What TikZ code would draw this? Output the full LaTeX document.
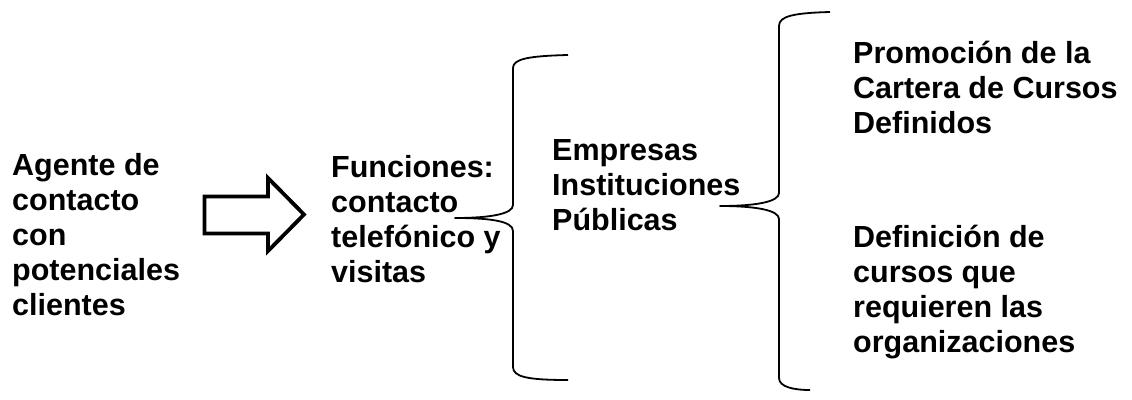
\documentclass[tikz,border=0pt]{standalone}
\usepackage{fontspec}
\setmainfont{Liberation Sans}
\begin{document}
\begin{tikzpicture}[x=1pt, y=-1pt,
  txt/.style={anchor=base west, inner sep=0pt, align=left,
    font=\fontsize{30.5}{34.8}\selectfont\bfseries},
  bracepath/.style={line width=1.8pt, line join=round},
  blockarrow/.style={line width=3.8pt, line join=miter}]
  \useasboundingbox (0,0) rectangle (1132,399);
  % text blocks (base = last line)
  \node[txt] (agente) at (12,315) {Agente de\\contacto\\con\\potenciales\\clientes};
  \node[txt] (funciones) at (331,282) {Funciones:\\contacto\\telefónico y\\visitas};
  \node[txt] (empresas) at (552,230) {Empresas\\Instituciones\\Públicas};
  \node[txt] (promocion) at (853,133) {Promoción de la\\Cartera de Cursos\\Definidos};
  \node[txt] (definicion) at (853,352) {Definición de\\cursos que\\requieren las\\organizaciones};
  % outlined block arrow
  \draw[blockarrow] (204.5,196.5) -- (268,196.5) -- (268,178) -- (304,214.5)
    -- (268,251) -- (268,233.5) -- (204.5,233.5) -- cycle;
  % first brace
  \coordinate (b1top) at (568,55);
  \coordinate (b1mid) at (455,218);
  \coordinate (b1bot) at (568,380);
  \draw[bracepath] (b1top) .. controls (528,56) and (513,59) .. (513,68)
    -- (513,205) .. controls (513,214) and (490,218) .. (b1mid)
    .. controls (490,218) and (513,221) .. (513,231)
    -- (513,367) .. controls (513,377) and (528,380) .. (b1bot);
  % second brace
  \coordinate (b2top) at (830,12);
  \coordinate (b2mid) at (720,206);
  \coordinate (b2bot) at (810,390);
  \draw[bracepath] (b2top) .. controls (794,13) and (779,16) .. (779,26)
    -- (779,193) .. controls (779,202) and (755,206) .. (b2mid)
    .. controls (755,206) and (779,210) .. (779,219)
    -- (779,378) .. controls (779,387) and (794,390) .. (b2bot);
\end{tikzpicture}
\end{document}
